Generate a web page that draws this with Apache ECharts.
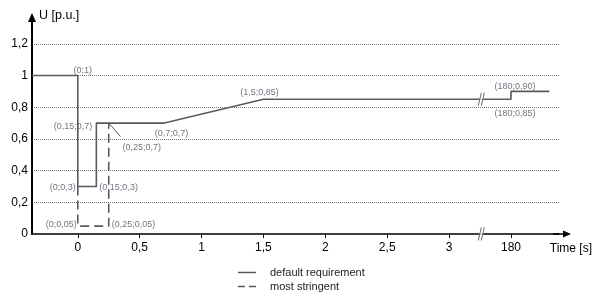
<!DOCTYPE html>
<html>
<head>
<meta charset="utf-8">
<script src="https://cdn.jsdelivr.net/npm/echarts@6/dist/echarts.min.js"></script>
<style>
  html, body { margin: 0; padding: 0; background: #fff; }
  #chart { width: 595px; height: 297px; }
</style>
</head>
<body>
<div id="chart"></div>
<script>
// axis runs in seconds up to the break, then 180 s sits at position 3.5
var xMin = -0.37;
var xMax = 3.888;
var breakPos = 3.26;

var tickTimes = [0, 0.5, 1, 1.5, 2, 2.5, 3, 180];
var tickLabels = ['0', '0,5', '1', '1,5', '2', '2,5', '3', '180'];

// default requirement profile
var defaultTime = [-0.37, 0, 0, 0.15, 0.15, 0.7, 1.5, 180, 180, 183.1];
var defaultU = [1, 1, 0.3, 0.3, 0.7, 0.7, 0.85, 0.85, 0.9, 0.9];

// most stringent profile (where it leaves the default one)
var stringentTime = [0, 0, 0.25, 0.25];
var stringentU = [0.3, 0.05, 0.05, 0.7];

// point annotations
var annTime = [0, 0.15, 0.345, 0.7, 1.5, 180, 180, 0, 0.15, 0, 0.25];
var annU = [1, 0.7, 0.615, 0.7, 0.85, 0.9, 0.85, 0.3, 0.3, 0.05, 0.05];
var annText = ['(0;1)', '(0,15;0,7)', '(0,25;0,7)', '(0,7;0,7)', '(1,5;0,85)', '(180;0,90)',
  '(180;0,85)', '(0;0,3)', '(0,15;0,3)', '(0;0,05)', '(0,25;0,05)'];

// leader line for the (0,25;0,7) label
var leaderTime = [0.25, 0.345];
var leaderU = [0.7, 0.615];

function axisPos(t) {
  return t >= 180 ? 3.5 + (t - 180) * 0.1 : t;
}
function pairs(ts, us) {
  return ts.map(function (t, i) { return [axisPos(t), us[i]]; });
}

var annPlace = [
  { position: 'top', distance: 1, offset: [5, 0] },
  { position: 'left', distance: 4, offset: [0, 3] },
  { position: 'right', distance: 2, offset: [0, 11] },
  { position: 'bottom', distance: 6, offset: [7, 0] },
  { position: 'top', distance: 2, offset: [-4, 0] },
  { position: 'top', distance: 0, offset: [4, 0] },
  { position: 'bottom', distance: 10, offset: [4, 0] },
  { position: 'left', distance: 2, offset: [0, 1.5] },
  { position: 'right', distance: 3, offset: [0, 1.5] },
  { position: 'left', distance: 1, offset: [0, -2] },
  { position: 'right', distance: 3, offset: [0, -2] }
];

var annData = pairs(annTime, annU).map(function (p, i) {
  return { value: p, name: annText[i], label: annPlace[i] };
});

var lineColor = '#5a5a5a';
var font = 'Liberation Sans, Arial, sans-serif';

var arrowUp = 'path://M4,0 L8,9 L5,9 L5,20 L3,20 L3,9 L0,9 Z';
var arrowRight = 'path://M3.5,0 L7,8 L4.25,8 L4.25,18 L2.75,18 L2.75,8 L0,8 Z';
var slashFill = 'path://M2,14 L5,0 L9,0 L6,14 Z';
var slashLines = 'path://M2,14 L5,0 L6,0 L3,14 Z M5,14 L8,0 L9,0 L6,14 Z';
var iconSolid = 'path://M0,0 L18,0 L18,1.5 L0,1.5 Z';
var iconDashed = 'path://M0,0 L7,0 L7,1.5 L0,1.5 Z M11,0 L18,0 L18,1.5 L11,1.5 Z';

var myChart = echarts.init(document.getElementById('chart'));
var option = {
  animation: false,
  textStyle: { fontFamily: font },
  grid: { left: 32, right: 35, top: 28, bottom: 63 },
  legend: {
    orient: 'vertical',
    left: 233,
    top: 262,
    height: 40,
    itemWidth: 18,
    itemHeight: 8,
    itemGap: 3,
    textStyle: { fontSize: 11, color: '#222', padding: [0, 0, 0, 9] },
    data: [
      { name: 'default requirement', icon: iconSolid },
      { name: 'most stringent', icon: iconDashed }
    ]
  },
  xAxis: {
    type: 'value',
    min: xMin,
    max: xMax,
    name: 'Time [s]',
    nameLocation: 'end',
    nameGap: 33,
    nameTextStyle: { fontSize: 12, color: '#000', align: 'right', verticalAlign: 'top', padding: [9, 0, 0, 0] },
    axisLine: {
      onZero: false,
      lineStyle: { color: '#000', width: 1.5 },
      symbol: ['none', arrowRight],
      symbolSize: [7, 18],
      symbolOffset: [0, 3]
    },
    axisTick: {
      show: true,
      length: 4,
      lineStyle: { color: '#000', width: 1 },
      customValues: tickTimes.map(axisPos)
    },
    axisLabel: {
      margin: 8,
      fontSize: 12,
      color: '#000',
      customValues: tickTimes.map(axisPos),
      formatter: function (v) {
        var i = tickTimes.map(axisPos).indexOf(v);
        return i >= 0 ? tickLabels[i] : '';
      }
    },
    splitLine: { show: false }
  },
  yAxis: {
    type: 'value',
    min: 0,
    max: 1.3,
    interval: 0.2,
    name: 'U [p.u.]',
    nameLocation: 'end',
    nameGap: 12,
    nameTextStyle: { fontSize: 12.5, color: '#000', align: 'left', verticalAlign: 'middle', padding: [0, 0, 0, 7] },
    axisLine: {
      show: true,
      onZero: false,
      lineStyle: { color: '#000', width: 2 },
      symbol: ['none', arrowUp],
      symbolSize: [8, 20],
      symbolOffset: [0, 5]
    },
    axisTick: { show: false },
    axisLabel: {
      margin: 4,
      fontSize: 12,
      color: '#000',
      showMaxLabel: false,
      formatter: function (v) {
        return String(+v.toFixed(2)).replace('.', ',');
      }
    },
    splitLine: {
      show: true,
      showMinLine: false,
      showMaxLine: false,
      lineStyle: { color: '#777', width: 1, type: [1, 1] }
    }
  },
  series: [
    {
      name: 'most stringent',
      type: 'line',
      z: 2,
      symbol: 'none',
      lineStyle: { color: lineColor, width: 1.6, type: [9, 5] },
      itemStyle: { color: lineColor },
      data: pairs(stringentTime, stringentU)
    },
    {
      name: 'default requirement',
      type: 'line',
      z: 3,
      symbol: 'none',
      lineStyle: { color: lineColor, width: 1.6 },
      itemStyle: { color: lineColor },
      data: pairs(defaultTime, defaultU)
    },
    {
      name: 'leader',
      type: 'line',
      z: 3,
      symbol: 'none',
      silent: true,
      lineStyle: { color: lineColor, width: 1 },
      data: pairs(leaderTime, leaderU)
    },
    {
      name: 'breakFill',
      type: 'scatter',
      z: 5,
      silent: true,
      clip: false,
      symbol: slashFill,
      symbolSize: [7, 13],
      itemStyle: { color: '#fff' },
      data: [[breakPos, 0.85], [breakPos, 0]]
    },
    {
      name: 'breakLines',
      type: 'scatter',
      z: 6,
      silent: true,
      clip: false,
      symbol: slashLines,
      symbolSize: [7, 13],
      itemStyle: { color: '#444' },
      data: [[breakPos, 0.85], [breakPos, 0]]
    },
    {
      name: 'annotations',
      type: 'scatter',
      z: 7,
      silent: true,
      symbolSize: 0,
      label: {
        show: true,
        fontSize: 9,
        color: '#4d5260',
        formatter: function (p) { return p.name; }
      },
      data: annData
    }
  ]
};
myChart.setOption(option);
</script>
</body>
</html>
